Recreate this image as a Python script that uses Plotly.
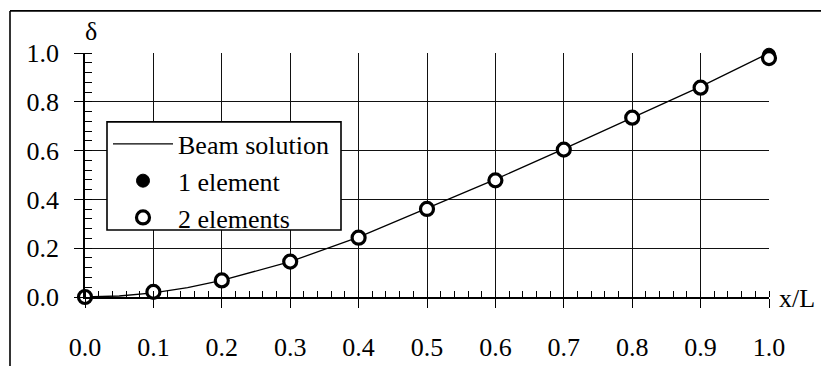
import plotly.graph_objects as go

# Normalised position along the beam
x_beam = [0.0, 0.05, 0.1, 0.15, 0.2, 0.3, 0.4, 0.5, 0.6, 0.7, 0.8, 0.9, 1.0]
# Deflection from the beam solution
d_beam = [0.0, 0.004, 0.017, 0.038, 0.068, 0.145, 0.245, 0.362, 0.482, 0.607, 0.735, 0.862, 1.0]

# One-element model (end nodes)
x_one = [0.0, 1.0]
d_one = [0.0, 0.993]

# Two-element model sampled along the span
x_two = [0.0, 0.1, 0.2, 0.3, 0.4, 0.5, 0.6, 0.7, 0.8, 0.9, 1.0]
d_two = [0.0, 0.021, 0.068, 0.145, 0.243, 0.361, 0.478, 0.604, 0.735, 0.858, 0.979]

tick_vals = [0.0, 0.1, 0.2, 0.3, 0.4, 0.5, 0.6, 0.7, 0.8, 0.9, 1.0]
tick_text = ["0.0", "0.1", "0.2", "0.3", "0.4", "0.5", "0.6", "0.7", "0.8", "0.9", "1.0"]
ytick_vals = [0.0, 0.2, 0.4, 0.6, 0.8, 1.0]
ytick_text = ["0.0", "0.2", "0.4", "0.6", "0.8", "1.0"]

FONT = "Liberation Serif"
W, H = 821, 374
L, R, T, B = 85, 52, 53, 66
PW, PH = W - L - R, H - T - B


def px_x(p):
    return (p - L) / PW


def px_y(p):
    return (H - B - p) / PH


fig = go.Figure()
fig.add_trace(go.Scatter(
    x=x_beam, y=d_beam, mode="lines", name="Beam solution",
    line=dict(color="black", width=1.3), legendgroup="a",
))
fig.add_trace(go.Scatter(
    x=x_one, y=d_one, mode="markers", name="1 element",
    marker=dict(symbol="circle", size=13, color="black",
                line=dict(color="black", width=1)),
    legendgroup="b", cliponaxis=False,
))
fig.add_trace(go.Scatter(
    x=x_two, y=d_two, mode="markers", name="2 elements",
    marker=dict(symbol="circle", size=13, color="white",
                line=dict(color="black", width=3.2)),
    legendgroup="c", cliponaxis=False,
))

axis_common = dict(
    showgrid=True, gridcolor="#111", gridwidth=1,
    showline=True, linecolor="black", linewidth=1.6,
    zeroline=False, ticks="outside", ticklen=9, tickwidth=1.2,
    tickcolor="black",
    tickfont=dict(family=FONT, size=26, color="black"),
)

fig.update_xaxes(
    range=[0, 1], tickmode="array", tickvals=tick_vals, ticktext=tick_text,
    ticklabelstandoff=17,
    minor=dict(ticks="inside", dtick=0.02, ticklen=6, tickwidth=1.1,
               tickcolor="black", showgrid=False),
    **axis_common,
)
fig.update_yaxes(
    range=[0, 1], tickmode="array", tickvals=ytick_vals, ticktext=ytick_text,
    ticklabelstandoff=10,
    minor=dict(ticks="inside", dtick=0.04, ticklen=7, tickwidth=1.1,
               tickcolor="black", showgrid=False),
    **axis_common,
)

# Outer frame (left and top edges)
fig.add_shape(type="line", xref="paper", yref="paper",
              x0=px_x(10), x1=px_x(10), y0=px_y(9), y1=px_y(380),
              line=dict(color="black", width=1.6))
fig.add_shape(type="line", xref="paper", yref="paper",
              x0=px_x(10), x1=px_x(830), y0=px_y(9), y1=px_y(9),
              line=dict(color="black", width=1.6))

# Legend box drawn over the grid
fig.add_shape(type="rect", xref="paper", yref="paper", layer="above",
              x0=px_x(107), x1=px_x(341), y0=px_y(125), y1=px_y(238),
              fillcolor="white", line=dict(color="black", width=1.6))

fig.add_annotation(text="δ", xref="paper", yref="paper",
                   x=px_x(83), y=px_y(48), xanchor="left", yanchor="bottom",
                   showarrow=False, font=dict(family=FONT, size=26, color="black"))
fig.add_annotation(text="x/L", xref="paper", yref="paper",
                   x=px_x(777), y=px_y(310), xanchor="left", yanchor="middle",
                   showarrow=False, font=dict(family=FONT, size=26, color="black"))

fig.update_layout(
    width=W, height=H,
    margin=dict(l=L, r=R, t=T, b=B),
    paper_bgcolor="white", plot_bgcolor="white",
    font=dict(family=FONT, size=26, color="black"),
    showlegend=True,
    legend=dict(
        x=px_x(108), y=px_y(123.5), xanchor="left", yanchor="top",
        bgcolor="rgba(0,0,0,0)", borderwidth=0,
        font=dict(family=FONT, size=26, color="black"),
        itemwidth=60, tracegroupgap=0, traceorder="grouped",
    ),
)

fig.write_html("out.html")
